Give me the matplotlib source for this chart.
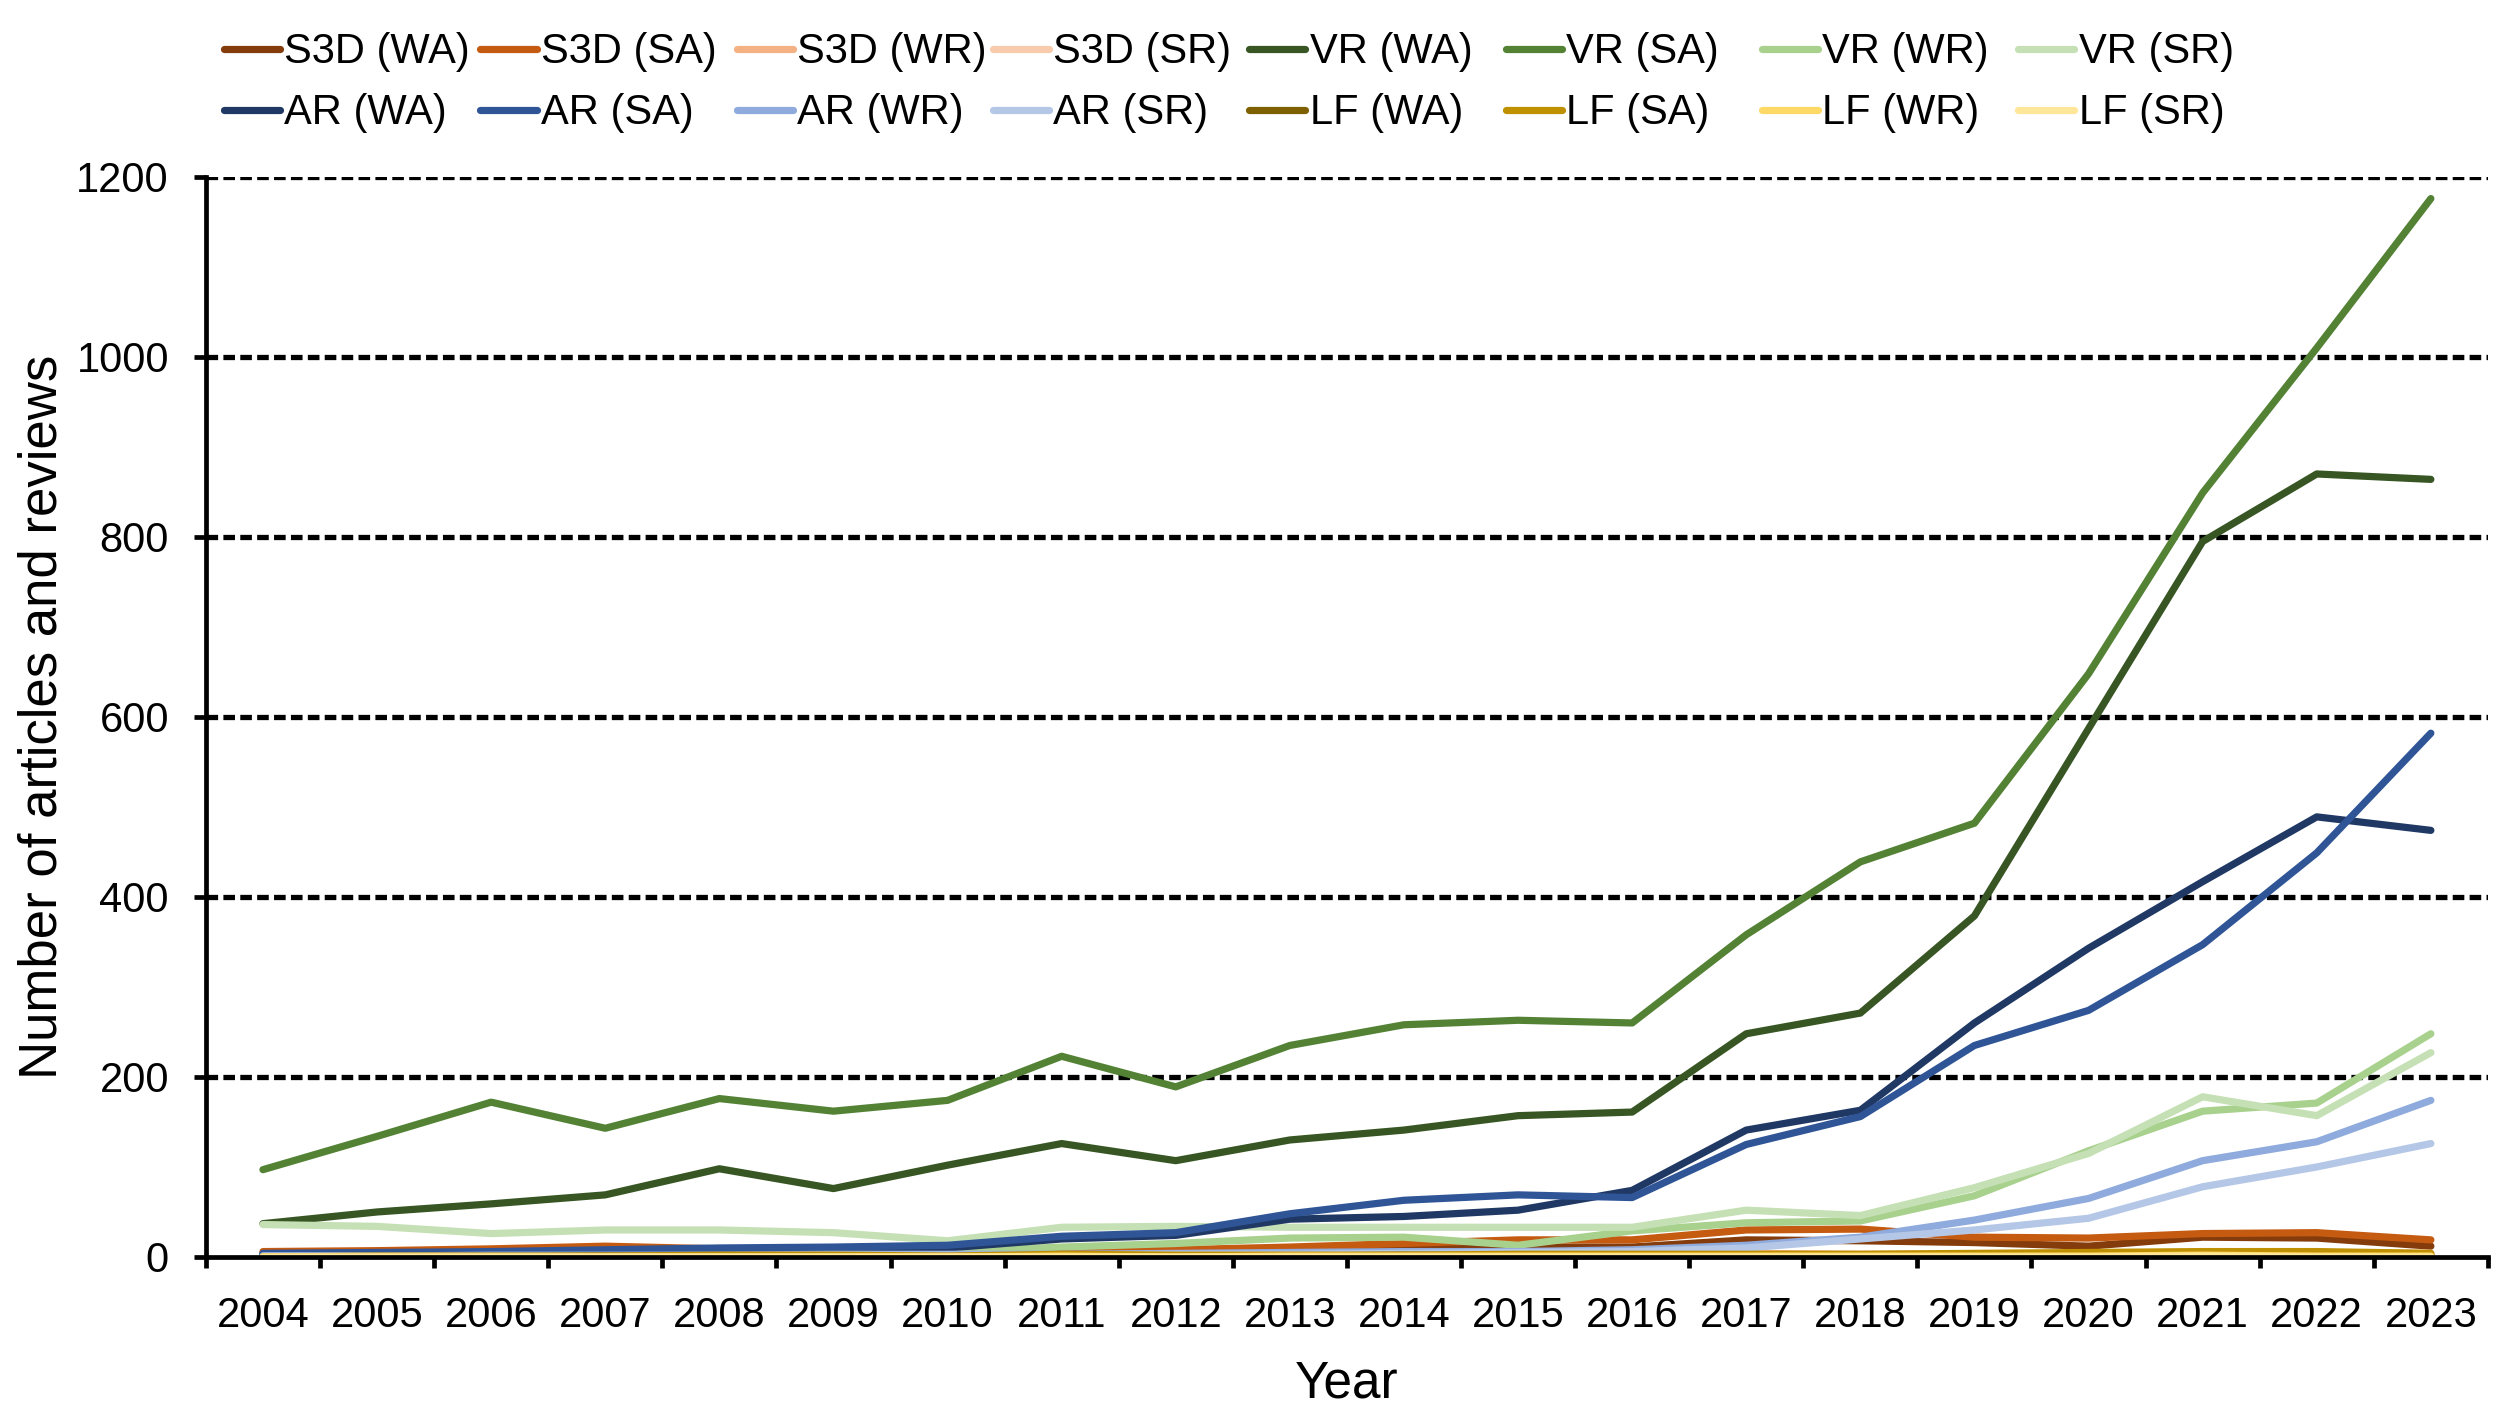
import numpy as np
import matplotlib
matplotlib.use("Agg")
import matplotlib.pyplot as plt

plt.rcParams['font.family'] = ['Liberation Sans', 'DejaVu Sans']

years = [str(y) for y in range(2004, 2024)]

s3d_wa = [3, 4, 5, 6, 6, 5, 3, 4, 6, 8, 9, 11, 11, 19, 18, 16, 12, 22, 21, 12]
s3d_sa = [6, 7, 9, 12, 9, 7, 5, 6, 8, 11, 15, 19, 19, 30, 31, 22, 21, 26, 27, 19]
s3d_wr = [0, 0, 1, 1, 0, 1, 1, 1, 2, 2, 3, 2, 3, 4, 3, 3, 2, 4, 5, 4]
s3d_sr = [0, 0, 0, 1, 0, 0, 1, 0, 1, 1, 1, 1, 1, 2, 2, 1, 2, 2, 3, 2]
vr_wa = [37, 50, 59, 69, 98, 76, 102, 126, 107, 130, 141, 157, 161, 248, 271, 379, 587, 795, 870, 864]
vr_sa = [97, 134, 172, 143, 176, 162, 174, 223, 189, 235, 258, 263, 260, 358, 439, 482, 648, 849, 1010, 1176]
vr_wr = [3, 4, 5, 6, 7, 7, 6, 11, 15, 21, 22, 13, 29, 38, 40, 68, 118, 162, 171, 248]
vr_sr = [36, 34, 26, 30, 30, 27, 18, 33, 34, 33, 33, 33, 33, 52, 46, 77, 115, 178, 157, 227]
ar_wa = [3, 4, 5, 7, 9, 9, 10, 20, 24, 42, 45, 52, 74, 141, 163, 260, 343, 417, 489, 474]
ar_sa = [4, 5, 6, 8, 10, 11, 13, 23, 27, 48, 63, 69, 66, 125, 156, 235, 274, 347, 449, 582]
ar_wr = [1, 1, 2, 2, 2, 3, 3, 3, 4, 5, 6, 6, 8, 13, 22, 41, 65, 107, 128, 174]
ar_sr = [1, 1, 1, 1, 1, 2, 2, 2, 3, 3, 4, 5, 6, 10, 20, 30, 43, 78, 100, 126]
lf_wa = [0, 0, 0, 1, 0, 1, 0, 1, 1, 1, 2, 1, 2, 2, 1, 2, 2, 3, 2, 2]
lf_sa = [0, 1, 1, 1, 2, 2, 1, 3, 2, 2, 2, 3, 3, 3, 3, 4, 5, 6, 6, 4]
lf_wr = [0, 0, 0, 0, 0, 0, 0, 1, 0, 1, 1, 1, 1, 1, 1, 1, 1, 2, 1, 1]
lf_sr = [0, 0, 0, 0, 0, 0, 0, 0, 0, 0, 0, 0, 0, 0, 0, 0, 0, 1, 0, 0]

labels = ['S3D (WA)', 'S3D (SA)', 'S3D (WR)', 'S3D (SR)',
          'VR (WA)', 'VR (SA)', 'VR (WR)', 'VR (SR)',
          'AR (WA)', 'AR (SA)', 'AR (WR)', 'AR (SR)',
          'LF (WA)', 'LF (SA)', 'LF (WR)', 'LF (SR)']
series = [s3d_wa, s3d_sa, s3d_wr, s3d_sr, vr_wa, vr_sa, vr_wr, vr_sr,
          ar_wa, ar_sa, ar_wr, ar_sr, lf_wa, lf_sa, lf_wr, lf_sr]
colors = ['#843C0C', '#C55A11', '#F4B183', '#F8CBAD',
          '#375623', '#548235', '#A9D18E', '#C5E0B4',
          '#203864', '#2F5597', '#8FAADC', '#B4C7E7',
          '#7F6000', '#BF9000', '#FFD966', '#FFE699']

fig = plt.figure(figsize=(12.555, 7.045), dpi=200)
ax = fig.add_axes([0.0820, 0.1079, 0.9088, 0.7665])

x = np.arange(len(years))
handles = []
for vals, lab, col in zip(series, labels, colors):
    h, = ax.plot(x, vals, color=col, lw=2.6, label=lab,
                 solid_capstyle='round', solid_joinstyle='round')
    handles.append(h)

ax.set_xlim(-0.5, len(years) - 0.5)
ax.set_ylim(0, 1200)
ax.set_yticks(np.arange(0, 1201, 200))
for yv in range(200, 1201, 200):
    ax.axhline(yv, color='black', lw=1.9, dashes=(2.2, 1.0), zorder=0)

ax.set_xticks(np.arange(-0.5, len(years), 1))
ax.set_xticklabels([])
ax.set_xticks(x, minor=True)
ax.set_xticklabels(years, minor=True)
ax.tick_params(axis='x', which='major', length=4, width=1.7, direction='out')
ax.tick_params(axis='x', which='minor', length=0, pad=14, labelsize=15)
ax.tick_params(axis='y', length=4.3, width=1.7, direction='out', pad=9, labelsize=15)

for s in ['top', 'right']:
    ax.spines[s].set_visible(False)
for s in ['left', 'bottom']:
    ax.spines[s].set_linewidth(1.7)

ax.set_xlabel('Year', fontsize=18.5, labelpad=8.5)
ax.set_ylabel('Number of articles and reviews', fontsize=19, labelpad=3)

# Excel-style legend: 8 equally spaced columns, two rows
for c in range(8):
    idx = [c, c + 8]
    fig.legend([handles[i] for i in idx], [labels[i] for i in idx],
               loc='upper left', bbox_to_anchor=((224 + c * 256.3) / 2511, 0.977),
               ncol=1, frameon=False, fontsize=15, handlelength=1.35,
               handletextpad=0.1, labelspacing=0.5, borderpad=0, borderaxespad=0)

fig.savefig('out.png', dpi=200)
